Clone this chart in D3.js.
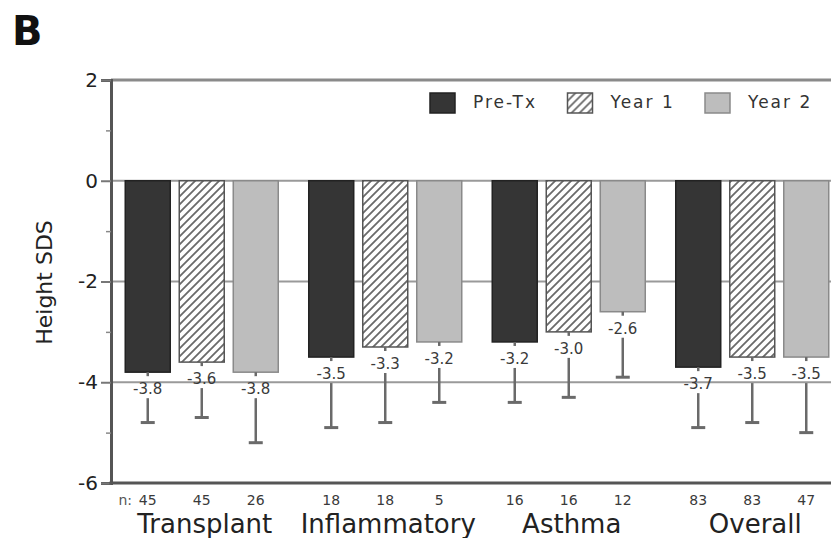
<!DOCTYPE html>
<html>
<head>
<meta charset="utf-8">
<script src="https://cdn.jsdelivr.net/npm/d3@7"></script>
<style>
  html, body { margin: 0; padding: 0; background: #fff; }
  svg { display: block; }
  text { font-family: "DejaVu Sans", sans-serif; }
</style>
</head>
<body>
<svg id="chart" width="831" height="538"></svg>
<script>
// Height SDS by diagnosis group, before treatment and after 1 and 2 years
const categories = ["Transplant", "Inflammatory", "Asthma", "Overall"];
const seriesNames = ["Pre-Tx", "Year 1", "Year 2"];

const preTx = [-3.8, -3.5, -3.2, -3.7];
const year1 = [-3.6, -3.3, -3.0, -3.5];
const year2 = [-3.8, -3.2, -2.6, -3.5];

// lower end of the error bars
const preTxLow = [-4.8, -4.9, -4.4, -4.9];
const year1Low = [-4.7, -4.8, -4.3, -4.8];
const year2Low = [-5.2, -4.4, -3.9, -5.0];

// number of patients per bar
const preTxN = [45, 18, 16, 83];
const year1N = [45, 18, 16, 83];
const year2N = [26, 5, 12, 47];

const yTicks = [2, 0, -2, -4, -6];
const yMinorTicks = [1, -1, -3, -5];
const gridValues = [0, -2, -4];

const seriesValues = [preTx, year1, year2];
const seriesLow = [preTxLow, year1Low, year2Low];
const seriesN = [preTxN, year1N, year2N];

const rows = [];
categories.forEach((cat, ci) => {
  seriesNames.forEach((s, si) => {
    rows.push({
      cat, series: s, si,
      value: seriesValues[si][ci],
      low: seriesLow[si][ci],
      n: seriesN[si][ci]
    });
  });
});

const svg = d3.select("#chart");
const W = 831;

const y = d3.scaleLinear().domain([-6, 2]).range([483, 80]);
const axisX = 111;

const x0 = d3.scaleBand().domain(categories).range([110, 844]).paddingInner(0).paddingOuter(0);
const x1 = d3.scaleBand().domain(seriesNames)
  .range([10.75, x0.bandwidth() - 10.75])
  .paddingInner(0.167).paddingOuter(0.0833);

// hatch pattern for Year 1
const defs = svg.append("defs");
const pat = defs.append("pattern")
  .attr("id", "hatch")
  .attr("patternUnits", "userSpaceOnUse")
  .attr("width", 8).attr("height", 8);
pat.append("rect").attr("width", 8).attr("height", 8).attr("fill", "#fff");
pat.append("path")
  .attr("d", "M-2,2 L2,-2 M0,8 L8,0 M6,10 L10,6")
  .attr("stroke", "#6a6a6a").attr("stroke-width", 1.8);

const fills = ["#353535", "url(#hatch)", "#bdbdbd"];
const strokes = ["#222", "#555", "#8a8a8a"];

// panel letter
svg.append("text")
  .attr("x", 12).attr("y", 45)
  .style("font-family", "'DejaVu Sans', sans-serif")
  .style("font-weight", "bold")
  .style("font-size", "40px")
  .attr("fill", "#111")
  .text("B");

// gridlines
svg.append("g").selectAll("line")
  .data(gridValues)
  .join("line")
  .attr("x1", axisX).attr("x2", W)
  .attr("y1", d => y(d)).attr("y2", d => y(d))
  .attr("stroke", "#9a9a9a").attr("stroke-width", 2);

// top frame line
svg.append("line")
  .attr("x1", axisX).attr("x2", W)
  .attr("y1", y(2)).attr("y2", y(2))
  .attr("stroke", "#8a8a8a").attr("stroke-width", 3);

// bars
const bars = svg.append("g");
bars.selectAll("rect")
  .data(rows)
  .join("rect")
  .attr("x", d => x0(d.cat) + x1(d.series))
  .attr("y", y(0))
  .attr("width", x1.bandwidth())
  .attr("height", d => y(d.value) - y(0))
  .attr("fill", d => fills[d.si])
  .attr("stroke", d => strokes[d.si])
  .attr("stroke-width", 1.5);

// error bars (interrupted by the value label)
const cx = d => x0(d.cat) + x1(d.series) + x1.bandwidth() / 2;
const err = svg.append("g").attr("stroke", "#6a6a6a");
err.selectAll("line.stub")
  .data(rows)
  .join("line")
  .attr("class", "stub")
  .attr("x1", cx).attr("x2", cx)
  .attr("y1", d => y(d.value)).attr("y2", d => y(d.value) + 4)
  .attr("stroke-width", 2.5);
err.selectAll("line.whisker")
  .data(rows)
  .join("line")
  .attr("class", "whisker")
  .attr("x1", cx).attr("x2", cx)
  .attr("y1", d => y(d.value) + 26).attr("y2", d => y(d.low))
  .attr("stroke-width", 2.5);
err.selectAll("line.cap")
  .data(rows)
  .join("line")
  .attr("class", "cap")
  .attr("x1", d => cx(d) - 7).attr("x2", d => cx(d) + 7)
  .attr("y1", d => y(d.low)).attr("y2", d => y(d.low))
  .attr("stroke-width", 3);

// value labels
svg.append("g").selectAll("text")
  .data(rows)
  .join("text")
  .attr("x", cx)
  .attr("y", d => y(d.value) + 22)
  .attr("text-anchor", "middle")
  .style("font-size", "15px")
  .attr("fill", "#3a3a3a")
  .text(d => d.value.toFixed(1));

// y axis
const yAxis = d3.axisLeft(y)
  .tickValues(yTicks)
  .tickSize(10)
  .tickPadding(3)
  .tickFormat(d => String(d));
const gy = svg.append("g")
  .attr("transform", `translate(${axisX},0)`)
  .call(yAxis);
gy.select(".domain").attr("stroke", "#555").attr("stroke-width", 3);
gy.selectAll(".tick line").attr("stroke", "#777").attr("stroke-width", 2);
gy.selectAll(".tick text")
  .style("font-family", "'DejaVu Sans', sans-serif")
  .style("font-size", "20px")
  .attr("fill", "#222");

const gyMinor = svg.append("g")
  .attr("transform", `translate(${axisX},0)`)
  .call(d3.axisLeft(y).tickValues(yMinorTicks).tickSize(5).tickFormat(""));
gyMinor.select(".domain").remove();
gyMinor.selectAll(".tick line").attr("stroke", "#888").attr("stroke-width", 1.5);

// bottom axis line
svg.append("line")
  .attr("x1", axisX - 1.5).attr("x2", W)
  .attr("y1", y(-6)).attr("y2", y(-6))
  .attr("stroke", "#555").attr("stroke-width", 3);

// y axis title
svg.append("text")
  .attr("transform", `translate(52,${(y(-6) + y(2)) / 2 + 1}) rotate(-90)`)
  .attr("text-anchor", "middle")
  .style("font-size", "22px")
  .attr("fill", "#222")
  .text("Height SDS");

// patient counts
svg.append("text")
  .attr("x", 132).attr("y", 505)
  .attr("text-anchor", "end")
  .style("font-size", "14px")
  .attr("fill", "#555")
  .text("n:");
svg.append("g").selectAll("text")
  .data(rows)
  .join("text")
  .attr("x", cx)
  .attr("y", 505)
  .attr("text-anchor", "middle")
  .style("font-size", "14px")
  .attr("fill", "#3a3a3a")
  .text(d => d.n);

// category names
svg.append("g").selectAll("text")
  .data(categories)
  .join("text")
  .attr("x", d => x0(d) + x0.bandwidth() / 2 + 3)
  .attr("y", 533)
  .attr("text-anchor", "middle")
  .style("font-size", "26px")
  .attr("fill", "#222")
  .text(d => d);

// legend
const legend = svg.append("g");
const legendX = d3.scalePoint().domain(seriesNames).range([430, 705]);
const items = legend.selectAll("g")
  .data(seriesNames)
  .join("g")
  .attr("transform", d => `translate(${legendX(d)},93)`);
items.append("rect")
  .attr("width", 25).attr("height", 20)
  .attr("fill", (d, i) => fills[i])
  .attr("stroke", (d, i) => strokes[i])
  .attr("stroke-width", 1.5);
items.append("text")
  .attr("x", 43).attr("y", 15)
  .style("font-size", "17px")
  .style("letter-spacing", "2px")
  .attr("fill", "#333")
  .text(d => d);
</script>
</body>
</html>
